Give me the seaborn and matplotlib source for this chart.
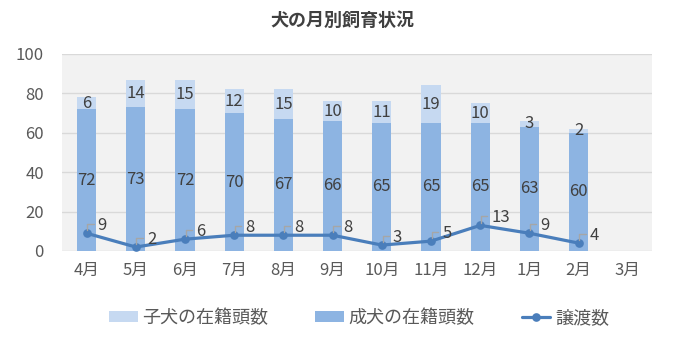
import numpy as np
import pandas as pd
import matplotlib
matplotlib.use("Agg")
import matplotlib.pyplot as plt
import matplotlib.transforms as mtrans
import seaborn as sns

# dati
months = ["4月", "5月", "6月", "7月", "8月", "9月", "10月", "11月", "12月", "1月", "2月", "3月"]
adult = [72, 73, 72, 70, 67, 66, 65, 65, 65, 63, 60, np.nan]
puppy = [6, 14, 15, 12, 15, 10, 11, 19, 10, 3, 2, np.nan]
transfer = [9, 2, 6, 8, 8, 8, 3, 5, 13, 9, 4, np.nan]

df = pd.DataFrame({"month": months, "adult": adult, "puppy": puppy, "transfer": transfer})
df["total"] = df["adult"] + df["puppy"]

sns.set_style("white")
plt.rcParams["font.family"] = ["Noto Sans CJK JP", "DejaVu Sans"]

fig = plt.figure(figsize=(6.85, 3.55), dpi=100)
ax = fig.add_axes([0.0905, 0.293, 0.862, 0.555])
ax.set_facecolor("#F2F2F2")

c_puppy = "#C6D9F1"
c_adult = "#8DB4E2"
c_line = "#4A7EBB"

# barre impilate: totale sotto, adulti sopra
sns.barplot(data=df, x="month", y="total", order=months, color=c_puppy, width=0.39,
            saturation=1, linewidth=0, ax=ax, label="子犬の在籍頭数", zorder=2)
sns.barplot(data=df, x="month", y="adult", order=months, color=c_adult, width=0.39,
            saturation=1, linewidth=0, ax=ax, label="成犬の在籍頭数", zorder=2)
sns.pointplot(data=df, x="month", y="transfer", order=months, color=c_line,
              markers="o", markersize=4.5, linewidth=2.3, ax=ax, label="譲渡数", zorder=4)

ax.set_ylim(0, 100)
ax.set_xlim(-0.5, 11.5)


def shifted(dx, dy):
    # trasformazione dati + spostamento in punti
    return ax.transData + mtrans.ScaledTranslation(dx / 72, dy / 72, fig.dpi_scale_trans)


# etichette
for i, row in df.iterrows():
    if np.isnan(row["adult"]):
        continue
    ax.text(i, row["adult"] / 2, f"{int(row['adult'])}", ha="center", va="center",
            fontsize=12, color="#404040", zorder=5)
    ax.text(i, row["adult"] + row["puppy"] / 2, f"{int(row['puppy'])}", ha="center",
            va="center", fontsize=12, color="#404040", zorder=5)
    ax.text(i, row["transfer"], f"{int(row['transfer'])}", ha="left", va="center",
            fontsize=12, color="#404040", zorder=5, transform=shifted(8, 5.5))
    # linea guida a L
    pts = [shifted(0.5, 2).transform((i, row["transfer"])),
           shifted(0.5, 6.5).transform((i, row["transfer"])),
           shifted(5, 6.5).transform((i, row["transfer"]))]
    fig.add_artist(plt.Line2D([p[0] for p in pts], [p[1] for p in pts], transform=None,
                              color="#A6A6A6", lw=1.0, zorder=6))

ax.set_yticks(range(0, 101, 20))
ax.yaxis.grid(True, color="#D9D9D9", lw=1)
ax.set_axisbelow(True)
for s in ax.spines.values():
    s.set_visible(False)
ax.set_xlabel("")
ax.set_ylabel("")
ax.tick_params(axis="both", length=0, labelsize=12, labelcolor="#595959")
ax.tick_params(axis="x", pad=8)
ax.tick_params(axis="y", pad=13)

fig.suptitle("犬の月別飼育状況", y=0.968, fontsize=13, fontweight="bold", color="#404040")

handles, labels = ax.get_legend_handles_labels()
order = [labels.index(l) for l in ["子犬の在籍頭数", "成犬の在籍頭数", "譲渡数"]]
ax.legend([handles[k] for k in order], [labels[k] for k in order], loc="center",
          bbox_to_anchor=(0.524, 0.104), bbox_transform=fig.transFigure, ncol=3,
          frameon=False, fontsize=13, handlelength=1.6, handleheight=0.55,
          columnspacing=2.6, handletextpad=0.25, labelcolor="#595959")

plt.savefig("out.png", dpi=100)
